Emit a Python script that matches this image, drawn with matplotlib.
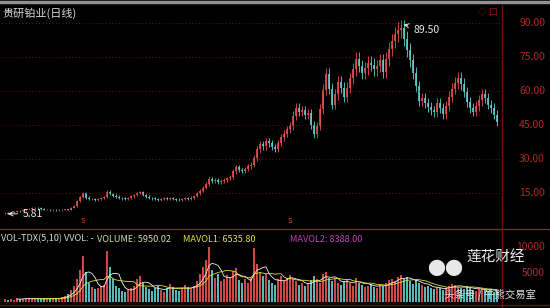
import numpy as np
import matplotlib
matplotlib.use("Agg")
import matplotlib.pyplot as plt

plt.rcParams['font.family'] = ['Noto Sans CJK SC', 'DejaVu Sans']

# daily closes, read left to right off the chart
closes = [
    6.2, 5.9, 6.3, 6.8, 7.2, 7.0, 7.5, 7.8, 8.0, 8.3,
    8.6, 8.4, 7.9, 7.6, 7.7, 7.4, 7.6, 7.3, 7.5, 7.6,
    7.8, 7.7, 8.5, 9.4, 11.5, 13.2, 14.8, 13.0, 12.2, 12.5,
    11.9, 12.4, 12.8, 13.2, 15.5, 14.6, 13.8, 13.4, 12.9, 12.6,
    12.2, 12.8, 13.5, 14.2, 15.0, 15.3, 14.2, 13.4, 12.8, 12.6,
    12.2, 11.9, 12.4, 12.8, 12.5, 12.9, 12.4, 12.1, 12.0, 12.5,
    12.8, 12.4, 13.0, 13.6, 14.8, 16.0, 17.4, 18.9, 21.2, 20.4,
    20.8, 19.9, 20.3, 20.9, 21.4, 22.0, 24.5, 26.4, 25.2, 24.8,
    25.6, 26.8, 27.4, 30.5, 34.2, 36.5, 35.6, 37.8, 36.9, 35.2,
    34.6, 37.0, 39.5, 41.2, 43.0, 44.5, 49.0, 52.5, 50.8, 51.5,
    49.6, 50.2, 45.0, 40.8, 44.5, 52.0, 60.5, 67.5, 61.0, 54.0,
    58.5, 64.0, 61.5, 57.5, 61.5, 65.5, 69.5, 74.0, 71.0, 68.0,
    70.0, 72.5, 71.5, 69.5, 71.0, 73.5, 68.5, 74.0, 78.5, 82.0,
    85.0, 87.0, 87.8, 83.0, 78.0, 73.5, 68.0, 62.0, 55.5, 57.0,
    54.5, 53.0, 51.5, 50.5, 54.5, 52.5, 49.8, 53.5, 57.5, 61.0,
    63.5, 65.8, 63.0, 59.5, 55.0, 52.5, 50.8, 53.5, 55.8, 58.5,
    57.0, 54.0, 52.5, 49.5, 46.5,
]

volumes = [
    500, 400, 600, 450, 700, 500, 600, 800, 650, 500,
    700, 600, 500, 650, 550, 600, 700, 650, 800, 900,
    1200, 1500, 2200, 3000, 4200, 6000, 8500, 5500, 3500, 2800,
    2400, 2600, 3000, 3200, 9500, 6500, 4200, 3000, 2500, 2000,
    1800, 2200, 2600, 3000, 4200, 4800, 3500, 2800, 2400, 2000,
    2500, 3000, 2200, 1800, 2600, 3400, 2800, 2300, 2000, 2500,
    3200, 2700, 2400, 3000, 3800, 5200, 6500, 7800, 10200, 6000,
    4500, 5200, 3800, 4200, 5000, 4400, 5800, 6200, 4000, 3500,
    4200, 3600, 4500, 10000, 7000, 5500, 4800, 5200, 4000, 3600,
    3200, 4200, 4800, 3800, 4500, 5000, 4200, 3800, 3200, 3600,
    3000, 3400, 4000, 4800, 4200, 3600, 5200, 5600, 4500, 3800,
    4200, 3600, 3200, 3800, 4200, 3500, 3000, 4400, 3600, 3200,
    2800, 3000, 3400, 2800, 2600, 3200, 2900, 3500, 4000, 4200,
    3800, 4600, 5000, 4200, 4600, 3800, 3400, 4000, 3600, 3200,
    2800, 3000, 2600, 2400, 2800, 2500, 2200, 2600, 3000, 3400,
    3100, 2800, 2600, 2400, 2900, 2700, 2300, 2000, 2400, 2600,
    2200, 2000, 2400, 1800, 2100,
]

price_ticks = [15, 30, 45, 60, 75, 90]
price_labels = ["15.00", "30.00", "45.00", "60.00", "75.00", "90.00"]
high_mark = (132, 89.50)
low_mark = (1, 5.81)
vol_title = ["VOL-TDX(5,10) VVOL: -", "VOLUME: 5950.02", "MAVOL1: 6535.80", "MAVOL2: 8388.00"]

W, H = 550, 308
bg = "black"
red = "#e85050"
cyan = "#60d0d0"
dark_red = "#8a1a1a"
axis_red = "#b02828"

fig = plt.figure(figsize=(W / 100, H / 100), dpi=100, facecolor=bg)

def px(x, y):
    return x / W, 1 - y / H

# main price panel
ax = fig.add_axes([2 / W, 1 - 228 / H, 500 / W, 223 / H], facecolor=bg)
vx = fig.add_axes([2 / W, 1 - 302 / H, 500 / W, 72 / H], facecolor=bg)

c = np.array(closes)
o = np.concatenate([[c[0]], c[:-1]])
idx = np.arange(len(c))
up = c >= o
hi = np.maximum(o, c) * 1.04
lo = np.minimum(o, c) * 0.96
cols = np.where(up, red, cyan)

ax.vlines(idx, lo, hi, colors=cols, lw=0.6)
ax.vlines(idx, np.minimum(o, c), np.maximum(o, c), colors=cols, lw=1.2)
for t in price_ticks:
    ax.axhline(t, color=dark_red, lw=0.6, ls=(0, (1, 3)))
ax.set_xlim(-1, -1 + 500 / 3)
ax.set_ylim(-0.44, 97.9)
ax.axis("off")

ax.annotate(f"{high_mark[1]:.2f}", xy=high_mark, xytext=(high_mark[0] + 4, high_mark[1] - 2.5),
            color="#e8e8e8", fontsize=7.5, va="center",
            arrowprops=dict(arrowstyle="->", color="#e8e8e8", lw=0.7))
ax.annotate(f"{low_mark[1]:.2f}", xy=(low_mark[0] - 1, low_mark[1]), xytext=(low_mark[0] + 5, low_mark[1]),
            color="#e8e8e8", fontsize=7.5, va="center",
            arrowprops=dict(arrowstyle="->", color="#e8e8e8", lw=0.7))

# price axis labels on the right
for t, lab in zip(price_ticks, price_labels):
    y = 227 - t * 204 / 90
    fig.text(*px(545, y), lab, color=axis_red, fontsize=7.5, ha="right", va="center")

# volume panel
v = np.array(volumes, dtype=float)
vx.bar(idx, v, width=0.6, color=cols, linewidth=0, alpha=0.9)
ma5 = np.convolve(v, np.ones(5) / 5, mode="valid")
ma10 = np.convolve(v, np.ones(10) / 10, mode="valid")
vx.plot(idx[4:], ma5, color="#f0f0f0", lw=0.6)
vx.plot(idx[9:], ma10, color="#e0e040", lw=0.6)
vx.set_xlim(-1, -1 + 500 / 3)
vx.set_ylim(0, 13300)
vx.axis("off")

fig.text(*px(545, 247), "10000", color=axis_red, fontsize=7.5, ha="right", va="center")
fig.text(*px(545, 273), "5000", color=axis_red, fontsize=7.5, ha="right", va="center")

# frame lines
fig.add_artist(plt.Line2D([0, 1], [1 - 228.5 / H] * 2, color="#a01818", lw=1.0))
fig.add_artist(plt.Line2D([502 / W] * 2, [0, 1 - 5 / H], color="#701010", lw=1.0))
fig.add_artist(plt.Line2D([0, 1], [1 - 1.5 / H] * 2, color="#909090", lw=2.5))
fig.add_artist(plt.Line2D([0, 1], [1 - 305 / H] * 2, color="#701010", lw=1.0))

# titles
fig.text(*px(2, 13), "贵研铂业(日线)", color="#d8d8d8", fontsize=8, va="center")
fig.text(*px(498, 12), "◇ 口", color=dark_red, fontsize=6.5, ha="right", va="center")
fig.text(*px(83, 221), "S", color=red, fontsize=5.5, ha="center", va="center")
fig.text(*px(290, 221), "S", color=red, fontsize=5.5, ha="center", va="center")

title_x = [1, 97, 183, 290]
title_c = ["#d8d8d8", "#d8d8a8", "#e0e040", "#c040c0"]
for xx, s, cc in zip(title_x, vol_title, title_c):
    fig.text(*px(xx, 239), s, color=cc, fontsize=6.6, va="center")

# watermark
fig.text(*px(445, 270), "●●", color="#e8e8e8", fontsize=13, ha="center", va="center", zorder=10)
fig.text(*px(496, 258), "莲花财经", color="#f0f0f0", fontsize=10.5, ha="center", va="center", zorder=10)
fig.text(*px(490, 294), "头条号 / 牛熊交易室", color="#e0e0e0", fontsize=7.5, ha="center", va="center", zorder=10)

fig.savefig("out.png", dpi=100, facecolor=bg)
